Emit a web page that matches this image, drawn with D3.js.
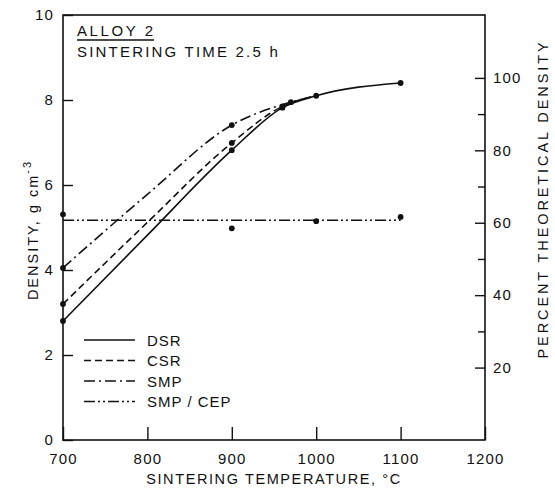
<!DOCTYPE html>
<html>
<head>
<meta charset="utf-8">
<script src="https://cdn.jsdelivr.net/npm/d3@7"></script>
<style>
  body { margin: 0; background: #fff; }
  svg text { font-family: "Liberation Sans", Arial, sans-serif; fill: #111; }
</style>
</head>
<body>
<svg id="chart" width="555" height="489"></svg>
<script>
// temperatures in degC, densities in g cm^-3
const dsrTemp = [700, 800, 900, 960, 1000, 1100];
const dsrDensity = [2.8, 4.82, 6.82, 7.82, 8.1, 8.4];
const csrTemp = [700, 800, 900, 960, 1000];
const csrDensity = [3.2, 5.12, 6.99, 7.85, 8.1];
const smpTemp = [700, 800, 900, 970, 1000];
const smpDensity = [4.05, 5.78, 7.41, 7.95, 8.1];
const cepTemp = [700, 900, 1000, 1100];
const cepDensity = [5.31, 4.98, 5.15, 5.25];
const cepLineTemp = [700, 1100];
const cepLineDensity = [5.17, 5.17];
const theoreticalDensity = 8.52;

// which temperatures carry a measured point marker
const dsrMarked = [700, 900, 960, 1000, 1100];
const csrMarked = [700, 900, 960];
const smpMarked = [700, 900, 970];

const xTicks = [700, 800, 900, 1000, 1100, 1200];
const yTicks = [0, 2, 4, 6, 8, 10];
const pctMajor = [20, 40, 60, 80, 100];
const pctMinor = [30, 50, 70, 90];
const legendLabels = ['DSR', 'CSR', 'SMP', 'SMP / CEP'];

const svg = d3.select('#chart');
const m = { left: 63, right: 485, top: 15, bottom: 440 };

const x = d3.scaleLinear().domain([700, 1200]).range([m.left, m.right]);
const y = d3.scaleLinear().domain([0, 10]).range([m.bottom, m.top]);
const yPct = d3.scaleLinear().domain([0, 100]).range([y(0), y(theoreticalDensity)]);

const dashes = ['none', '7,4', '11,4,2,4', '11,3,2,3,2,3'];
const series = [
  { t: dsrTemp, d: dsrDensity, marked: dsrMarked },
  { t: csrTemp, d: csrDensity, marked: csrMarked },
  { t: smpTemp, d: smpDensity, marked: smpMarked },
  { t: cepLineTemp, d: cepLineDensity, straight: true }
];

// frame
svg.append('rect')
  .attr('x', m.left).attr('y', m.top)
  .attr('width', m.right - m.left).attr('height', m.bottom - m.top)
  .attr('fill', 'none').attr('stroke', '#111').attr('stroke-width', 1.6);

// axes
const axisStyle = g => {
  g.select('.domain').remove();
  g.selectAll('.tick line').attr('stroke', '#111').attr('stroke-width', 1.4);
  g.selectAll('.tick text').attr('font-size', 15).attr('fill', '#111')
    .attr('letter-spacing', 1.2)
    .style('font-family', '"Liberation Sans", Arial, sans-serif');
};
svg.append('g').attr('transform', `translate(${m.left},0)`)
  .call(d3.axisLeft(y).tickValues(yTicks).tickSize(-10).tickPadding(9).tickFormat(d3.format('d')))
  .call(axisStyle);
svg.append('g').attr('transform', `translate(0,${m.bottom})`)
  .call(d3.axisBottom(x).tickValues(xTicks).tickSize(-13).tickPadding(13).tickFormat(d3.format('d')))
  .call(axisStyle);
svg.append('g').attr('transform', `translate(${m.right},0)`)
  .call(d3.axisRight(yPct).tickValues(pctMajor).tickSize(-10).tickPadding(8).tickFormat(d3.format('d')))
  .call(axisStyle);
svg.append('g').attr('transform', `translate(${m.right},0)`)
  .call(d3.axisRight(yPct).tickValues(pctMinor).tickSize(-7).tickFormat(''))
  .call(axisStyle);

// curves
series.forEach((s, i) => {
  const line = d3.line()
    .x(k => x(s.t[k])).y(k => y(s.d[k]))
    .curve(s.straight ? d3.curveLinear : d3.curveMonotoneX);
  svg.append('path')
    .attr('d', line(d3.range(s.t.length)))
    .attr('fill', 'none').attr('stroke', '#111')
    .attr('stroke-width', 1.6)
    .attr('stroke-dasharray', dashes[i]);
});

// data points
const pts = [];
series.slice(0, 3).forEach(s => s.t.forEach((v, k) => {
  if (s.marked.includes(v)) pts.push([v, s.d[k]]);
}));
cepTemp.forEach((v, k) => pts.push([v, cepDensity[k]]));
svg.append('g').selectAll('circle').data(pts).join('circle')
  .attr('cx', p => x(p[0])).attr('cy', p => y(p[1]))
  .attr('r', 2.9).attr('fill', '#111');

// legend
const legend = svg.append('g');
legendLabels.forEach((lab, i) => {
  const ly = 340 + i * 20.5;
  legend.append('line')
    .attr('x1', 84).attr('x2', 135).attr('y1', ly).attr('y2', ly)
    .attr('stroke', '#111').attr('stroke-width', 1.5)
    .attr('stroke-dasharray', dashes[i]);
  legend.append('text')
    .attr('x', 147).attr('y', ly + 5.5)
    .attr('font-size', 15).attr('letter-spacing', 1)
    .text(lab);
});

// annotation
svg.append('text').attr('x', 77).attr('y', 36)
  .attr('font-size', 15).attr('letter-spacing', 2.6)
  .text('ALLOY 2');
svg.append('line').attr('x1', 77).attr('x2', 154).attr('y1', 40).attr('y2', 40)
  .attr('stroke', '#111').attr('stroke-width', 1.5);
svg.append('text').attr('x', 77).attr('y', 57)
  .attr('font-size', 15).attr('letter-spacing', 2.2)
  .text('SINTERING TIME 2.5 h');

// axis titles
svg.append('text')
  .attr('x', (m.left + m.right) / 2).attr('y', 484)
  .attr('text-anchor', 'middle').attr('font-size', 14.5).attr('letter-spacing', 1.6)
  .text('SINTERING TEMPERATURE, °C');

const yTitle = svg.append('text')
  .attr('transform', 'translate(38,230) rotate(-90)')
  .attr('text-anchor', 'middle').attr('font-size', 14.5).attr('letter-spacing', 2);
yTitle.append('tspan').text('DENSITY,  g  cm');
yTitle.append('tspan').attr('dy', -7).attr('font-size', 11).text('-3');

svg.append('text')
  .attr('transform', 'translate(548,199) rotate(-90)')
  .attr('text-anchor', 'middle').attr('font-size', 14.5).attr('letter-spacing', 2.9)
  .text('PERCENT  THEORETICAL  DENSITY');
</script>
</body>
</html>
